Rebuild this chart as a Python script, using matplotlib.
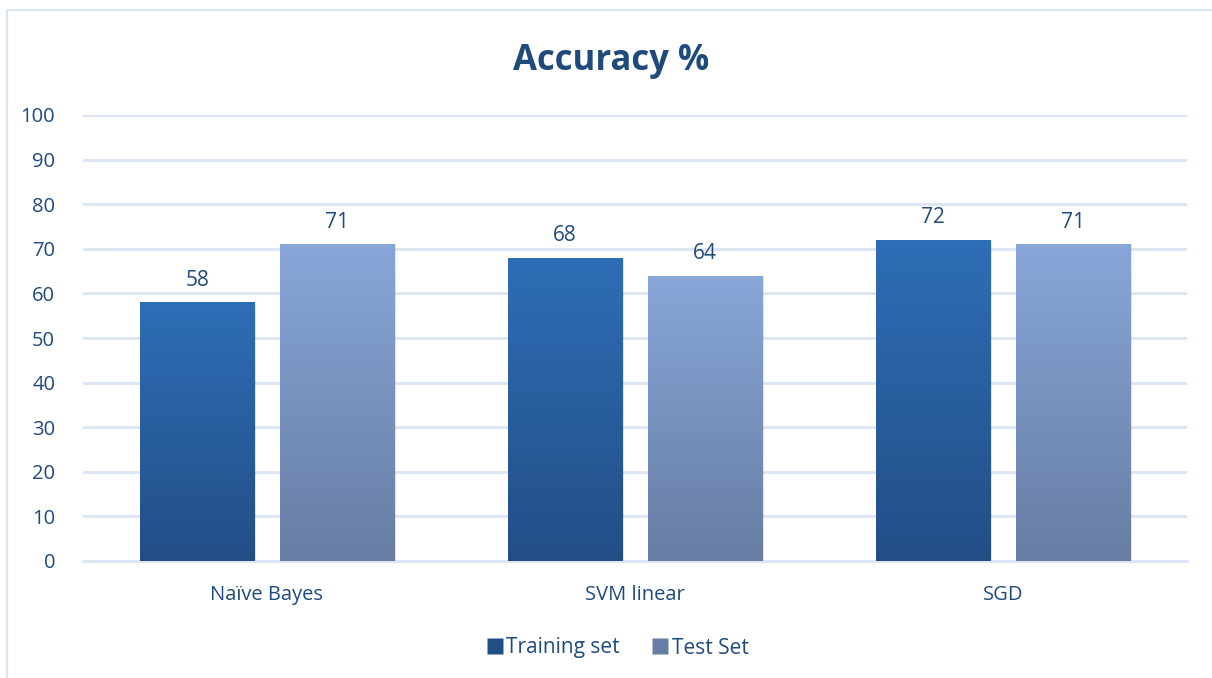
import numpy as np
import matplotlib
matplotlib.use("Agg")
import matplotlib.pyplot as plt
from matplotlib.colors import LinearSegmentedColormap
from matplotlib.lines import Line2D
from matplotlib.patches import Rectangle

categories = ["Naïve Bayes", "SVM linear", "SGD"]
training_set = [58, 68, 72]
test_set = [71, 64, 71]
series_names = ["Training set", "Test Set"]
y_ticks = [0, 10, 20, 30, 40, 50, 60, 70, 80, 90, 100]

TEXT = "#1F4A7C"
GRID = "#DCE5F3"
# (top colour, bottom colour) for the gradient fill of each series
GRADIENTS = [("#2E6EB6", "#224E86"), ("#88A6D8", "#677DA3")]

plt.rcParams["font.family"] = ["Open Sans", "DejaVu Sans"]

fig = plt.figure(figsize=(12.12, 6.78), dpi=100)
ax = fig.add_axes([83 / 1212, 117 / 678, 1104 / 1212, 446 / 678])

x = np.arange(len(categories))
width = 0.31
offsets = [-0.19, 0.19]


def gradient_bars(ax, xs, values, top, bottom, label):
    bars = ax.bar(xs, values, width, color="none", edgecolor="none", label=label, zorder=3)
    cmap = LinearSegmentedColormap.from_list("g", [bottom, top])
    grad = np.linspace(0, 1, 256).reshape(-1, 1)
    for bar in bars:
        x0, y0 = bar.get_x(), bar.get_y()
        w, h = bar.get_width(), bar.get_height()
        # soft shadow to the right and below
        ax.add_patch(Rectangle((x0 + 0.006, y0 - 0.35), w, h, color="#000000",
                               alpha=0.10, zorder=2, linewidth=0))
        im = ax.imshow(grad, cmap=cmap, aspect="auto", origin="lower",
                       extent=(x0, x0 + w, y0, y0 + h), zorder=3)
        im.set_clip_path(bar)
    return bars


for i, vals in enumerate([training_set, test_set]):
    top, bottom = GRADIENTS[i]
    bars = gradient_bars(ax, x + offsets[i], vals, top, bottom, series_names[i])
    for b, v in zip(bars, vals):
        ax.text(b.get_x() + b.get_width() / 2, v + 2.6, f"{v}", ha="center", va="bottom",
                fontsize=15, color=TEXT, zorder=4)

ax.set_xlim(-0.5, len(categories) - 0.5)
ax.set_ylim(0, 100)
ax.set_yticks(y_ticks)
ax.set_xticks(x)
ax.set_xticklabels(categories)
ax.tick_params(axis="both", length=0, labelsize=14.5, labelcolor=TEXT)
ax.tick_params(axis="y", pad=20)
ax.tick_params(axis="x", pad=17)
for side in ["top", "right", "left"]:
    ax.spines[side].set_visible(False)
ax.spines["bottom"].set_color(GRID)
ax.spines["bottom"].set_linewidth(2)
ax.grid(axis="y", color=GRID, linewidth=2, zorder=0)
ax.set_axisbelow(True)

fig.text(611 / 1212, 1 - 61 / 678, "Accuracy %", ha="center", va="center",
         fontsize=25, fontweight="bold", color=TEXT)

# legend with square handles
handles = [Line2D([], [], marker="s", linestyle="none", markersize=12,
                  markerfacecolor=GRADIENTS[i][1], markeredgecolor="none")
           for i in range(2)]
fig.legend(handles, series_names, loc="center", bbox_to_anchor=(617 / 1212, 1 - 648 / 678),
           ncol=2, frameon=False, fontsize=15, labelcolor=TEXT, handletextpad=0.1,
           columnspacing=1.5, handlelength=0.9)

# outer chart border (left and top edges visible)
fig.add_artist(Line2D([7 / 1212, 7 / 1212], [0, 1 - 10 / 678], transform=fig.transFigure,
                      color=GRID, linewidth=1.5))
fig.add_artist(Line2D([7 / 1212, 1], [1 - 10 / 678, 1 - 10 / 678], transform=fig.transFigure,
                      color=GRID, linewidth=1.5))

fig.savefig("out.png", dpi=100, facecolor="white")
